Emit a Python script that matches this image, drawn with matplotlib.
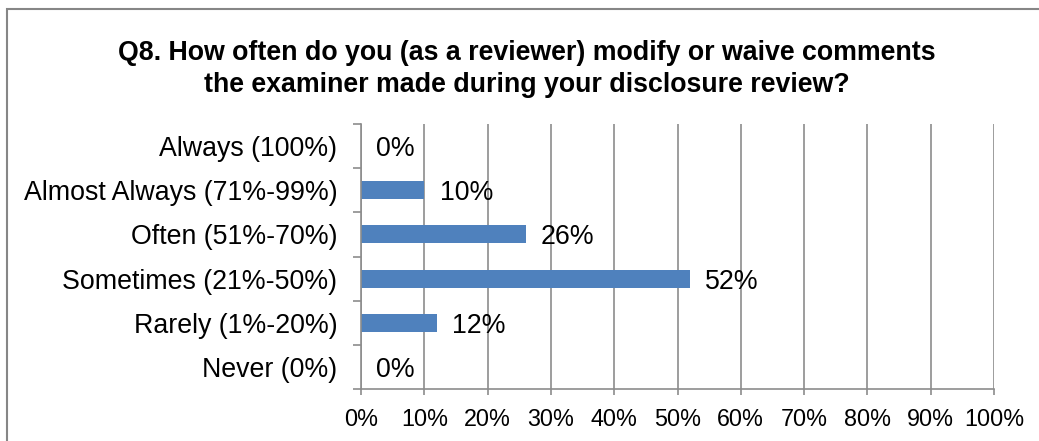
import matplotlib
matplotlib.use("Agg")
import matplotlib.pyplot as plt
from matplotlib.patches import Rectangle
from matplotlib.ticker import MultipleLocator, FuncFormatter

plt.rcParams['font.family'] = ['Liberation Sans', 'DejaVu Sans']

categories = [
    "Always (100%)",
    "Almost Always (71%-99%)",
    "Often (51%-70%)",
    "Sometimes (21%-50%)",
    "Rarely (1%-20%)",
    "Never (0%)",
]
values = [0, 10, 26, 52, 12, 0]
title = ("Q8. How often do you (as a reviewer) modify or waive comments\n"
         "the examiner made during your disclosure review?")

bar_color = "#4F81BD"
grid_color = "#8C8C8C"
fs = 19.3
fs_xtick = 16.8

W, H = 1039, 441
fig = plt.figure(figsize=(W / 100, H / 100), dpi=100)

# outer chart frame
fig.patches.append(Rectangle((7 / W, -0.1), 1.2, 1 - 9 / H + 0.1,
                             transform=fig.transFigure, fill=False,
                             edgecolor="#868686", linewidth=1.5))

ax = fig.add_axes([361 / W, 1 - 389 / H, (994 - 361) / W, (389 - 124) / H])

pos = list(range(len(categories)))
ax.barh(pos, values, height=0.41, color=bar_color, zorder=3)
ax.set_ylim(len(categories) - 0.5, -0.5)
ax.set_xlim(0, 100)

ax.set_yticks(pos)
ax.set_yticklabels(categories, fontsize=fs, va="center_baseline")
ax.xaxis.set_major_locator(MultipleLocator(10))
ax.xaxis.set_major_formatter(FuncFormatter(lambda v, p: f"{v:.0f}%"))
ax.tick_params(axis='x', labelsize=fs_xtick, length=4, width=1.2, color=grid_color, pad=9.5)
ax.tick_params(axis='y', which='major', length=0, pad=17)

# y-axis boundary ticks between categories
ax.set_yticks([p - 0.5 for p in pos] + [len(pos) - 0.5], minor=True)
ax.tick_params(axis='y', which='minor', length=5.5, width=1.2, color=grid_color)

ax.grid(axis='x', color=grid_color, linewidth=1.2, zorder=0)
for side in ("top", "right"):
    ax.spines[side].set_visible(False)
for side in ("left", "bottom"):
    ax.spines[side].set_color(grid_color)
    ax.spines[side].set_linewidth(1.2)
    ax.spines[side].set_zorder(4)

for p, v in zip(pos, values):
    ax.annotate(f"{v}%", xy=(v, p), xytext=(11, 0), textcoords="offset points",
                ha="left", va="center_baseline", fontsize=fs, zorder=5)

fig.text(527 / W, 1 - 69 / H, title, ha="center", va="center",
         fontsize=fs, fontweight="bold", linespacing=1.3)

fig.savefig("out.png", dpi=100)
